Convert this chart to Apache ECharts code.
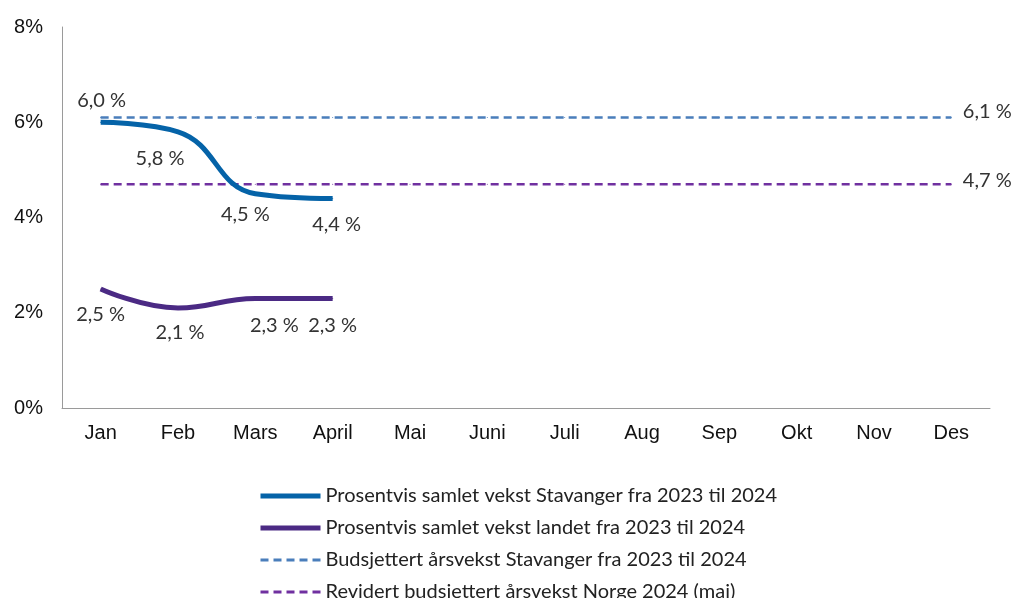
<!DOCTYPE html>
<html>
<head>
<meta charset="utf-8">
<script src="https://cdn.jsdelivr.net/npm/echarts@6/dist/echarts.min.js"></script>
<style>
  html, body { margin: 0; padding: 0; background: #fff; }
  #chart { width: 1018px; height: 598px; }
</style>
</head>
<body>
<div id="chart"></div>
<script>
const months = ['Jan', 'Feb', 'Mars', 'April', 'Mai', 'Juni', 'Juli', 'Aug', 'Sep', 'Okt', 'Nov', 'Des'];
const stavanger = [6.0, 5.8, 4.5, 4.4];
const landet = [2.5, 2.1, 2.3, 2.3];
const budsjettStavanger = 6.1;
const budsjettNorge = 4.7;
const names = [
  'Prosentvis samlet vekst Stavanger fra 2023 til 2024',
  'Prosentvis samlet vekst landet fra 2023 til 2024',
  'Budsjettert årsvekst Stavanger fra 2023 til 2024',
  'Revidert budsjettert årsvekst Norge 2024 (mai)'
];

const pct = v => v.toFixed(1).replace('.', ',') + ' %';
const labelFont = { fontFamily: 'Lato', fontSize: 20, color: '#333' };

// label offsets per point, picked to sit like the original
const stavLabelPos = [
  { position: 'top', offset: [1, -6] },
  { position: 'bottom', offset: [-18, 11] },
  { position: 'bottom', offset: [-10, 5] },
  { position: 'bottom', offset: [4, 11] }
];
const landLabelPos = [
  { position: 'bottom', offset: [0, 10] },
  { position: 'bottom', offset: [2, 9] },
  { position: 'bottom', offset: [19, 12] },
  { position: 'bottom', offset: [0, 12] }
];

const flatLine = (v, dy) => months.map((m, i) => ({
  value: v,
  label: i === months.length - 1
    ? { show: true, position: 'right', distance: 11, offset: [0, dy], formatter: pct(v), ...labelFont }
    : { show: false }
}));

const lineSeries = (name, color, width, dash, data, z) => ({
  name: name,
  type: 'line',
  smooth: dash ? false : 0.45,
  symbol: 'circle',
  symbolSize: 1,
  lineStyle: { color: color, width: width, type: dash || 'solid' },
  itemStyle: { color: color },
  data: data,
  z: z
});

const chart = echarts.init(document.getElementById('chart'));
chart.setOption({
  animation: false,
  grid: { left: 62, right: 28, top: 27, bottom: 190 },
  legend: {
    orient: 'vertical',
    left: 253,
    top: 481,
    height: 300,
    itemWidth: 60,
    itemHeight: 14,
    itemGap: 12,
    itemStyle: { opacity: 0 },
    textStyle: { fontFamily: 'Lato', fontSize: 20, color: '#222' },
    data: [
      { name: names[0], lineStyle: { width: 5 } },
      { name: names[1], lineStyle: { width: 5 } },
      { name: names[2], lineStyle: { width: 3, type: [8, 5] } },
      { name: names[3], lineStyle: { width: 3, type: [8, 5] } }
    ]
  },
  xAxis: {
    type: 'category',
    data: months,
    boundaryGap: true,
    axisLine: { lineStyle: { color: '#9a9a9a', width: 1 } },
    axisTick: { show: false },
    axisLabel: { fontFamily: 'Liberation Sans', fontSize: 20, color: '#111', margin: 15 }
  },
  yAxis: {
    type: 'value',
    min: 0,
    max: 8,
    interval: 2,
    axisLine: { show: true, lineStyle: { color: '#9a9a9a', width: 1 } },
    axisTick: { show: false },
    splitLine: { show: false },
    axisLabel: { fontFamily: 'Liberation Sans', fontSize: 20, color: '#111', margin: 19, formatter: '{value}%' }
  },
  series: [
    lineSeries(names[0], '#0563A8', 5, null, stavanger.map((v, i) => ({
      value: v,
      label: { show: true, formatter: pct(v), ...stavLabelPos[i], ...labelFont }
    })), 5),
    lineSeries(names[1], '#4B2A84', 5, null, landet.map((v, i) => ({
      value: v,
      label: { show: true, formatter: pct(v), ...landLabelPos[i], ...labelFont }
    })), 5),
    lineSeries(names[2], '#4A7EBB', 2.5, [8, 5], flatLine(budsjettStavanger, -6), 2),
    lineSeries(names[3], '#7030A0', 2.5, [8, 5], flatLine(budsjettNorge, -4), 2)
  ]
});
</script>
</body>
</html>
